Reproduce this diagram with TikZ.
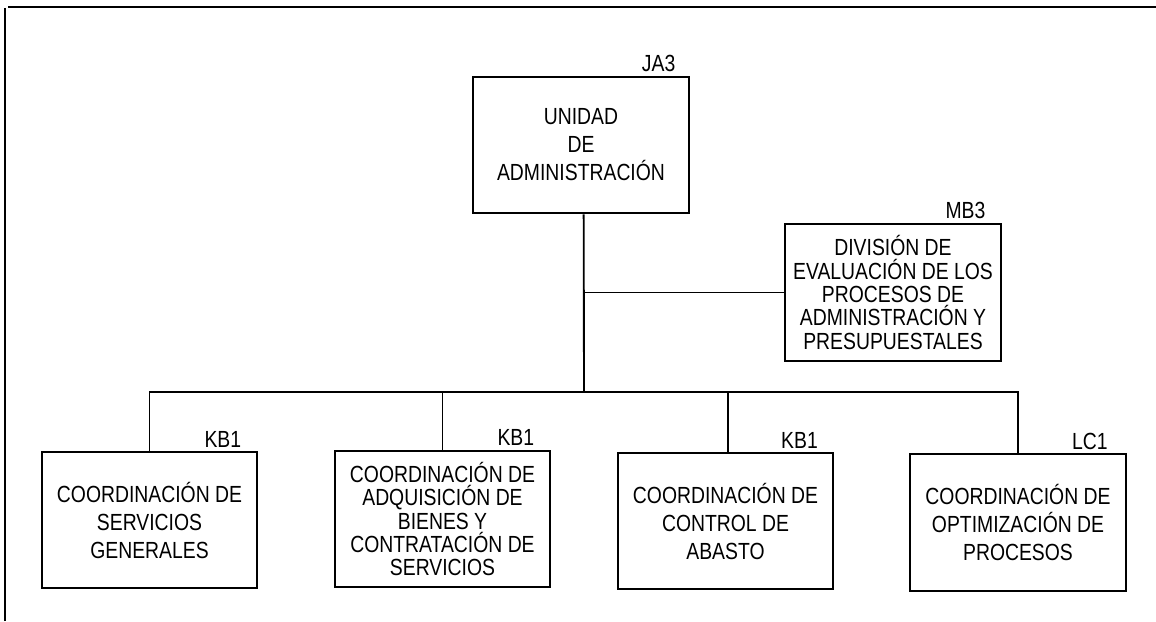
\documentclass[tikz,border=0pt]{standalone}
\usepackage{fontspec}
\setmainfont{Liberation Sans}[FakeStretch=0.83]

\begin{document}
\begin{tikzpicture}[x=0.75pt, y=-0.75pt,
      unit/.style={rectangle, draw, line width=1.4pt, inner sep=0pt,
                   minimum width=161.5pt, minimum height=102.5pt, align=center,
                   font=\fontsize{17.5}{21}\selectfont},
      dense/.style={unit, font=\fontsize{17.5}{17.5}\selectfont},
      code/.style={anchor=base east, inner sep=0pt, font=\fontsize{17.5}{18}\selectfont},
      link/.style={line width=1.4pt},
      frame/.style={line width=2pt}]
      \useasboundingbox (0,0) rectangle (1156,621);
      \draw[frame] (5,621) -- (5,8);
      \draw[frame] (8,7) -- (1156,7);

      \node[unit] (unidad) at (581,145) {UNIDAD\\DE\\ADMINISTRACIÓN};
      \node[dense] (division) at (893,292.5) {DIVISIÓN DE\\EVALUACIÓN DE LOS\\PROCESOS DE\\ADMINISTRACIÓN Y\\PRESUPUESTALES};
      \node[unit] (servicios) at (149.5,520) {COORDINACIÓN DE\\SERVICIOS\\GENERALES};
      \node[dense] (adquisicion) at (442.5,519) {COORDINACIÓN DE\\ADQUISICIÓN DE\\BIENES Y\\CONTRATACIÓN DE\\SERVICIOS};
      \node[unit] (abasto) at (725.5,521) {COORDINACIÓN DE\\CONTROL DE\\ABASTO};
      \node[unit] (procesos) at (1018,522.5) {COORDINACIÓN DE\\OPTIMIZACIÓN DE\\PROCESOS};

      \node[code] (ja3) at ([xshift=-10.5pt, yshift=3pt]unidad.north east) {JA3};
      \node[code] (mb3) at ([xshift=-12pt, yshift=3.5pt]division.north east) {MB3};
      \node[code] (kb1a) at ([xshift=-12.5pt, yshift=2.5pt]servicios.north east) {KB1};
      \node[code] (kb1b) at ([xshift=-12.5pt, yshift=3.5pt]adquisicion.north east) {KB1};
      \node[code] (kb1c) at ([xshift=-12pt, yshift=2.5pt]abasto.north east) {KB1};
      \node[code] (lc1) at ([xshift=-14pt, yshift=2.5pt]procesos.north east) {LC1};

      \coordinate (bus) at (584,392);
      \draw[link] ([xshift=2pt]unidad.south) -- (bus);
      \draw[link] ([xshift=2pt]unidad.south |- division.west) -- (division.west);
      \draw[link] (servicios.north) |- (bus);
      \draw[link] (procesos.north) |- (bus);
      \draw[link] (adquisicion.north) -- (adquisicion.north |- bus);
      \draw[link] ([xshift=2pt]abasto.north) -- ([xshift=2pt]abasto.north |- bus);
    \end{tikzpicture}
\end{document}
